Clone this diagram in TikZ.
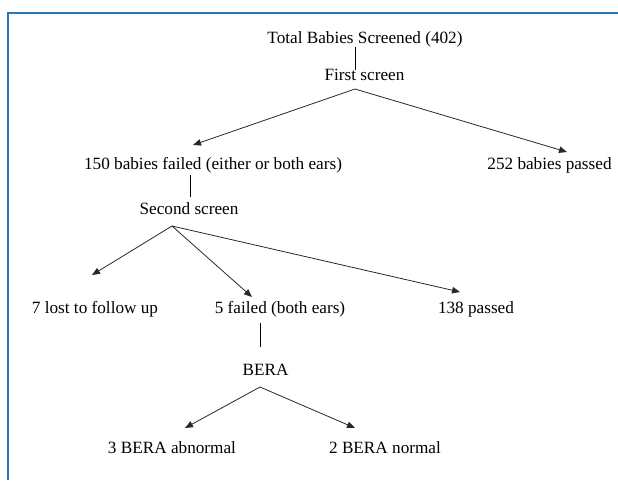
\documentclass[tikz,border=0pt]{standalone}
\usepackage{fontspec}
\setmainfont{Liberation Serif}
\usetikzlibrary{arrows.meta}
\definecolor{frameblue}{RGB}{46,117,182}
\definecolor{arrowgray}{RGB}{40,40,40}
\tikzset{
  lbl/.style={anchor=base, inner sep=0pt, font=\fontsize{17.2}{20}\selectfont},
  vline/.style={draw=black, line width=0.8pt},
  arr/.style={draw=arrowgray, line width=0.8pt, -{Triangle[length=8pt,width=6.5pt]}},
}
\begin{document}
\begin{tikzpicture}[x=1pt,y=-1pt]
\useasboundingbox (0,0) rectangle (618,480);
% frame
\draw[frameblue, line width=2.3pt] (8.3,480) -- (8.3,13) -- (618,13);
% labels
\node[lbl] (total) at (365,43) {Total Babies Screened (402)};
\node[lbl] (first) at (364.5,80) {First screen};
\node[lbl] (failed) at (213,169) {150 babies failed (either or both ears)};
\node[lbl] (passed) at (549.5,169) {252 babies passed};
\node[lbl] (second) at (189,214) {Second screen};
\node[lbl] (lost) at (95,313) {7 lost to follow up};
\node[lbl] (five) at (280,313) {5 failed (both ears)};
\node[lbl] (pass138) at (476,313) {138 passed};
\node[lbl] (bera) at (265.5,375) {BERA};
\node[lbl] (abn) at (172,453) {3 BERA abnormal};
\node[lbl] (norm) at (385,453) {2 BERA normal};
% connector points
\coordinate (v1a) at (355,47);
\coordinate (v1b) at (355,70);
\coordinate (ap1) at (355,89);
\coordinate (t1l) at (193,145);
\coordinate (t1r) at (567,152);
\coordinate (v2a) at (190,175);
\coordinate (v2b) at (190,197);
\coordinate (ap2) at (172,226);
\coordinate (t2a) at (92,275);
\coordinate (t2b) at (252,297);
\coordinate (t2c) at (460,292);
\coordinate (v3a) at (260,323);
\coordinate (v3b) at (260,347);
\coordinate (ap3) at (260,387);
\coordinate (t3l) at (185,428);
\coordinate (t3r) at (355,428);
% connectors
\draw[vline] (v1a) -- (v1b);
\draw[arr] (ap1) -- (t1l);
\draw[arr] (ap1) -- (t1r);
\draw[vline] (v2a) -- (v2b);
\draw[arr] (ap2) -- (t2a);
\draw[arr] (ap2) -- (t2b);
\draw[arr] (ap2) -- (t2c);
\draw[vline] (v3a) -- (v3b);
\draw[arr] (ap3) -- (t3l);
\draw[arr] (ap3) -- (t3r);
\end{tikzpicture}
\end{document}
